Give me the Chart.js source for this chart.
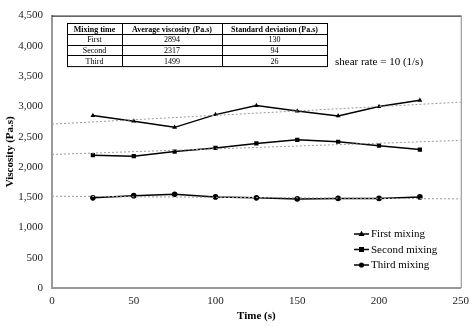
<!DOCTYPE html>
<html lang="en">
<head>
<meta charset="UTF-8">
<title>Viscosity vs Time</title>
<script src="https://cdn.jsdelivr.net/npm/chart.js@4.4.2/dist/chart.umd.min.js"></script>
<style>
    html, body { margin: 0; padding: 0; background: #fff; }
    #wrap { position: relative; width: 476px; height: 327px; }
</style>
</head>
<body>
<div id="wrap"><canvas id="chart" width="476" height="327"></canvas></div>
<script>
// --- Data ---
const times = [25, 50, 75, 100, 125, 150, 175, 200, 225];
const firstMixing  = [2848, 2756, 2654, 2864, 3015, 2924, 2843, 2998, 3101];
const secondMixing = [2195, 2178, 2254, 2314, 2389, 2449, 2416, 2351, 2287];
const thirdMixing  = [1489, 1526, 1548, 1505, 1489, 1472, 1480, 1480, 1505];

// dotted trend lines, ends at x = 0 and x = 250
const trendX = [0, 250];
const firstTrend  = [2707, 3070];
const secondTrend = [2206, 2438];
const thirdTrend  = [1516, 1472];

const seriesNames = ['First mixing', 'Second mixing', 'Third mixing'];
const markerStyles = ['triangle', 'rect', 'circle'];

const tableHeader = ['Mixing time', 'Average viscosity (Pa.s)', 'Standard deviation (Pa.s)'];
const tableRows = [
    ['First', '2894', '130'],
    ['Second', '2317', '94'],
    ['Third', '1499', '26']
];
const noteText = 'shear rate = 10 (1/s)';

const serif = '"Liberation Serif", "Times New Roman", serif';

function toPoints(xs, ys) {
    return xs.map((x, i) => ({ x: x, y: ys[i] }));
}

const mainSets = [firstMixing, secondMixing, thirdMixing].map((vals, i) => ({
    label: seriesNames[i],
    data: toPoints(times, vals),
    borderColor: '#000',
    backgroundColor: '#000',
    borderWidth: 1.5,
    pointStyle: markerStyles[i],
    pointRadius: i === 1 ? 3 : 2.8,
    pointBorderWidth: 0,
    tension: 0
}));

const trendSets = [firstTrend, secondTrend, thirdTrend].map(vals => ({
    label: 'trend',
    data: toPoints(trendX, vals),
    borderColor: '#9a9a9a',
    borderWidth: 1,
    borderDash: [2, 2],
    pointRadius: 0,
    tension: 0
}));

// table, note and legend drawn on top of the plot
const overlayPlugin = {
    id: 'overlay',
    afterDraw(chart) {
        const ctx = chart.ctx;
        const a = chart.chartArea;
        ctx.save();

        // frame top and right
        ctx.strokeStyle = '#000';
        ctx.lineWidth = 1;
        ctx.beginPath();
        ctx.moveTo(a.left, a.top + 0.5);
        ctx.lineTo(a.right + 0.5, a.top + 0.5);
        ctx.stroke();
        ctx.strokeStyle = '#888';
        ctx.beginPath();
        ctx.moveTo(a.right + 0.5, a.top);
        ctx.lineTo(a.right + 0.5, a.bottom);
        ctx.stroke();

        // table
        const tx = 67, ty = 23;
        const colW = [55, 100, 105];
        const rowH = [11, 10.7, 10.7, 10.7];
        const totalW = colW.reduce((s, v) => s + v, 0);
        const totalH = rowH.reduce((s, v) => s + v, 0);
        ctx.fillStyle = '#fff';
        ctx.fillRect(tx, ty, totalW, totalH);
        ctx.strokeStyle = '#000';
        ctx.lineWidth = 1;
        ctx.strokeRect(tx + 0.5, ty + 0.5, totalW, totalH);
        let yy = ty;
        for (let r = 0; r < rowH.length - 1; r++) {
            yy += rowH[r];
            ctx.beginPath();
            ctx.moveTo(tx, Math.round(yy) + 0.5);
            ctx.lineTo(tx + totalW, Math.round(yy) + 0.5);
            ctx.stroke();
        }
        let xx = tx;
        for (let c = 0; c < colW.length - 1; c++) {
            xx += colW[c];
            ctx.beginPath();
            ctx.moveTo(Math.round(xx) + 0.5, ty);
            ctx.lineTo(Math.round(xx) + 0.5, ty + totalH);
            ctx.stroke();
        }
        ctx.fillStyle = '#000';
        ctx.textAlign = 'center';
        ctx.textBaseline = 'middle';
        const allRows = [tableHeader].concat(tableRows);
        yy = ty;
        allRows.forEach((row, r) => {
            ctx.font = (r === 0 ? 'bold ' : '') + '8px ' + serif;
            let cx = tx;
            row.forEach((txt, c) => {
                ctx.fillText(txt, cx + colW[c] / 2, yy + rowH[r] / 2 + 1);
                cx += colW[c];
            });
            yy += rowH[r];
        });

        // note
        ctx.font = '11px ' + serif;
        ctx.textAlign = 'left';
        ctx.fillText(noteText, 335, 62);

        // legend
        const lx = 354, ly = [234, 249.5, 265];
        seriesNames.forEach((name, i) => {
            ctx.strokeStyle = '#000';
            ctx.lineWidth = 1.5;
            ctx.beginPath();
            ctx.moveTo(lx, ly[i]);
            ctx.lineTo(lx + 15, ly[i]);
            ctx.stroke();
            ctx.fillStyle = '#000';
            const mx = lx + 7.5, my = ly[i];
            ctx.beginPath();
            if (markerStyles[i] === 'triangle') {
                ctx.moveTo(mx, my - 3.2);
                ctx.lineTo(mx + 3, my + 2);
                ctx.lineTo(mx - 3, my + 2);
                ctx.closePath();
            } else if (markerStyles[i] === 'rect') {
                ctx.rect(mx - 2.5, my - 2.5, 5, 5);
            } else {
                ctx.arc(mx, my, 2.6, 0, Math.PI * 2);
            }
            ctx.fill();
            ctx.font = '11px ' + serif;
            ctx.textAlign = 'left';
            ctx.textBaseline = 'middle';
            ctx.fillText(name, lx + 17, ly[i] + 0.5);
        });
        ctx.restore();
    }
};

new Chart(document.getElementById('chart'), {
    type: 'line',
    data: { datasets: trendSets.concat(mainSets) },
    options: {
        responsive: false,
        animation: false,
        layout: { padding: { left: 0, right: 13, top: 10, bottom: 0 } },
        plugins: {
            legend: { display: false },
            tooltip: { enabled: false }
        },
        scales: {
            x: {
                type: 'linear',
                min: 0,
                max: 250,
                ticks: { stepSize: 50, color: '#222', font: { family: serif, size: 11 }, padding: 7 },
                grid: { display: false, drawTicks: false, tickLength: 0 },
                border: { display: true, color: '#999', width: 2 },
                title: { display: true, text: 'Time (s)', color: '#000', font: { family: serif, size: 11, weight: 'bold' }, padding: { top: 2 } },
                afterFit(scale) { scale.height = 39; }
            },
            y: {
                min: 0,
                max: 4500,
                ticks: {
                    stepSize: 500,
                    color: '#222',
                    font: { family: serif, size: 11 },
                    padding: 9,
                    callback: v => v.toLocaleString('en-US')
                },
                grid: { display: false, drawTicks: false, tickLength: 0 },
                border: { display: true, color: '#999', width: 2 },
                title: { display: true, text: 'Viscosity (Pa.s)', color: '#000', font: { family: serif, size: 11, weight: 'bold' }, padding: { bottom: 0 } },
                afterFit(scale) { scale.width = 52; }
            }
        }
    },
    plugins: [overlayPlugin]
});
</script>
</body>
</html>
